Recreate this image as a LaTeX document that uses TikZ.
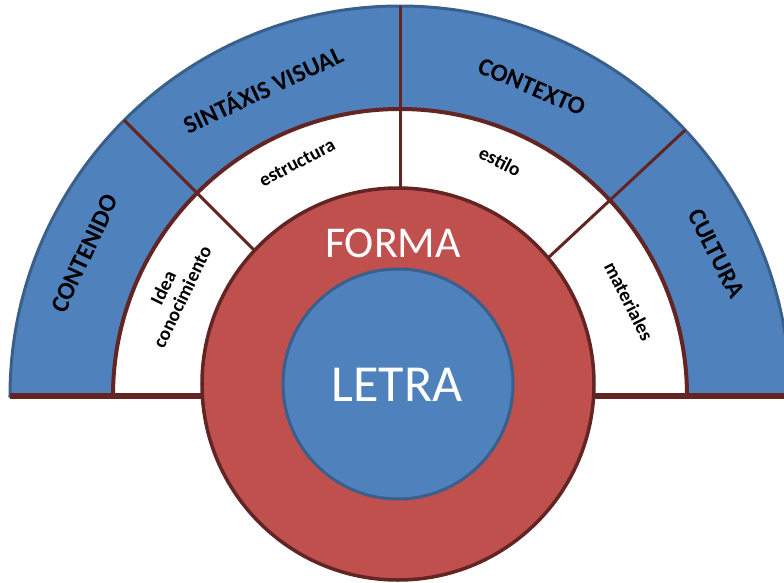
\documentclass[tikz,border=0pt]{standalone}
\usepackage{fontspec}
\setmainfont{Carlito}

\definecolor{bandblue}{HTML}{4F81BD}
\definecolor{edgeblue}{HTML}{3A5F8B}
\definecolor{formared}{HTML}{C0504D}
\definecolor{edgered}{HTML}{632523}

\tikzset{
  bandlabel/.style={font=\bfseries\fontsize{25}{28}\selectfont, text=black},
  ringlabel/.style={font=\bfseries\fontsize{19.5}{21}\selectfont, text=black, align=center},
  divider/.style={draw=edgered, line width=3pt}
}

\begin{document}
\begin{tikzpicture}[x=1pt, y=1pt]

  \useasboundingbox (-400,-186) rectangle (384,396);
  \clip (-400,-186) rectangle (384,396);

  \coordinate (O) at (0,0);
  \coordinate (C) at (-2,12);

  % Outer band and white ring
  \filldraw[fill=bandblue, draw=edgeblue, line width=3pt] (390,0) arc (0:180:390) -- cycle;
  \fill[white] (287,0) arc (0:180:287) -- cycle;

  % Dividers
  \draw[divider] (O) -- (135:390);
  \draw[divider] (O) -- (90:390);
  \draw[divider] (O) -- (43:390);

  \draw[draw=edgered, line width=4pt] (287,0) arc (0:180:287);

  % Base line
  \draw[draw=edgered, line width=6pt] (-390,0) -- (400,0);

  % Circles
  \filldraw[fill=formared, draw=edgered, line width=3.5pt] (C) circle (196);
  \filldraw[fill=bandblue, draw=edgeblue, line width=3pt] (C) circle (115);

  % Labels
  \node[bandlabel, rotate=65]  (contenido) at (155.7:346) {CONTENIDO};
  \node[bandlabel, rotate=25]  (sintaxis)  at (114.1:337) {SINTÁXIS VISUAL};
  \node[bandlabel, rotate=-23] (contexto)  at (66.9:336)  {CONTEXTO};
  \node[bandlabel, rotate=-63] (cultura)   at (24.2:347)  {CULTURA};

  \node[ringlabel, rotate=64]  (idea)       at (155.5:250) {Idea\\conocimiento};
  \node[ringlabel, rotate=28]  (estructura) at (113.8:255) {estructura};
  \node[ringlabel, rotate=-27] (estilo)     at (66.9:255)  {estilo};
  \node[ringlabel, rotate=-63] (materiales) at (22.5:248)  {materiales};

  \node[text=white, font=\fontsize{44}{48}\selectfont] (forma) at (-7,153) {FORMA};
  \node[text=white, font=\fontsize{52}{56}\selectfont] (letra) at (-3,11)  {LETRA};

\end{tikzpicture}
\end{document}
